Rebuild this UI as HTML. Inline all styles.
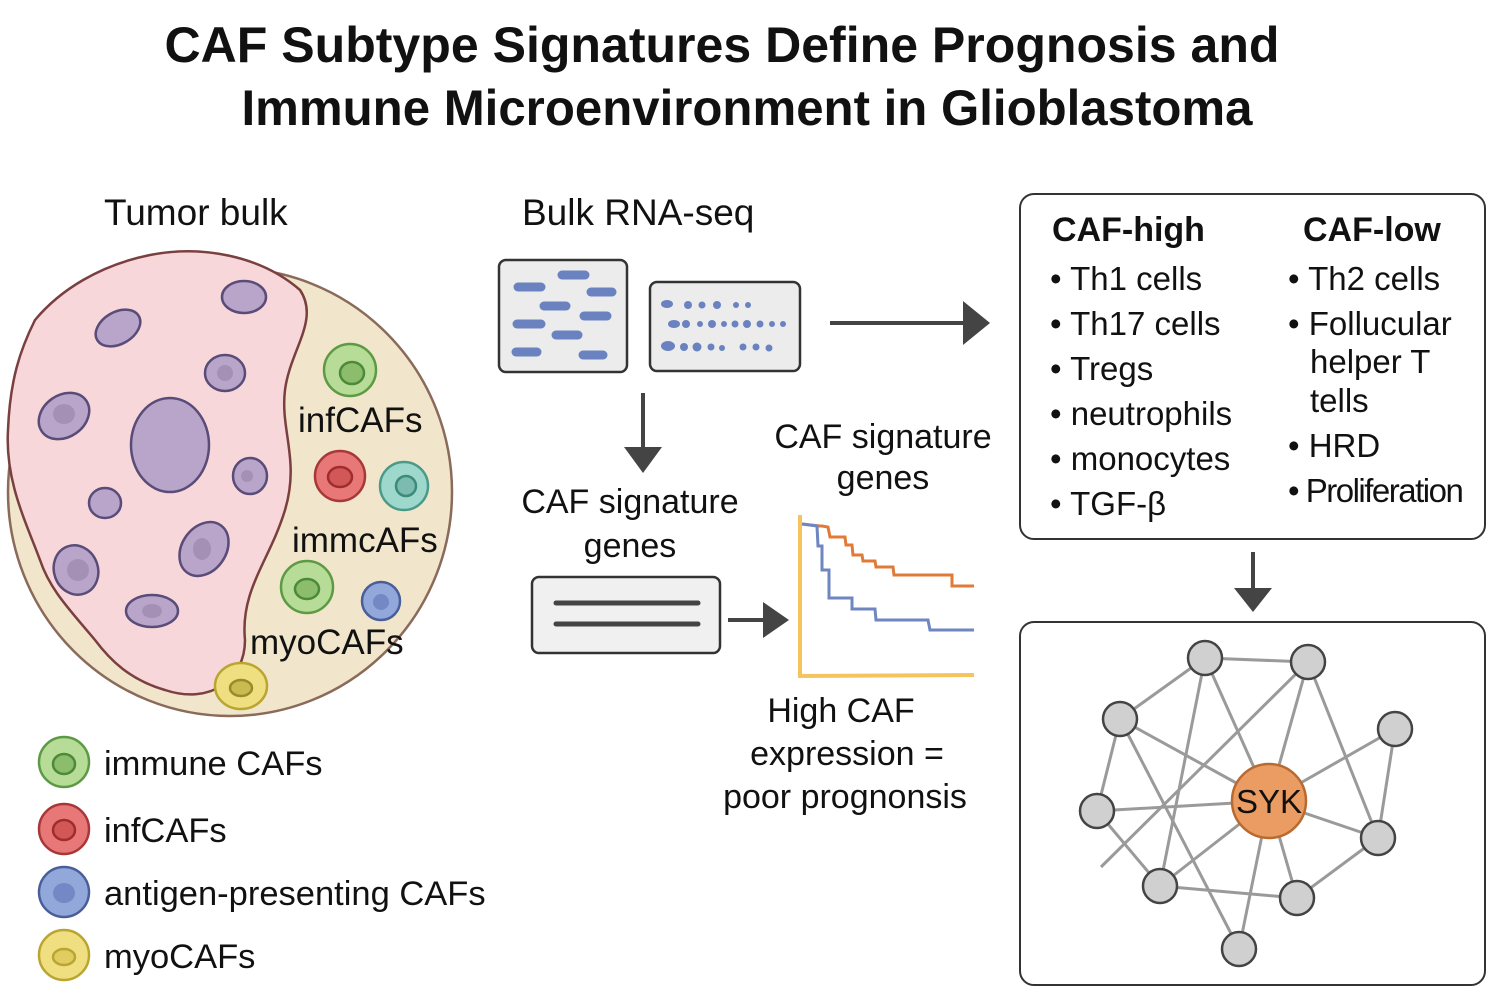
<!DOCTYPE html>
<html><head><meta charset="utf-8"><style>
html,body{margin:0;padding:0;background:#fff;width:1502px;height:998px;overflow:hidden}
svg{display:block}
text{font-family:"Liberation Sans",sans-serif;fill:#111}
</style></head><body>
<svg width="1502" height="998" viewBox="0 0 1502 998" xmlns="http://www.w3.org/2000/svg">
<!-- Title -->
<text x="722" y="62" font-size="50" font-weight="bold" text-anchor="middle" textLength="1115" lengthAdjust="spacingAndGlyphs">CAF Subtype Signatures Define Prognosis and</text>
<text x="747" y="125" font-size="50" font-weight="bold" text-anchor="middle" textLength="1011" lengthAdjust="spacingAndGlyphs">Immune Microenvironment in Glioblastoma</text>

<text x="104" y="225" font-size="37">Tumor bulk</text>
<text x="522" y="225" font-size="37">Bulk RNA-seq</text>

<!-- Tumor -->
<ellipse cx="230" cy="492" rx="222" ry="224" fill="#f1e6cb" stroke="#8a6a5a" stroke-width="2.5"/>
<path d="M150,255 C200,245 260,255 300,290 C320,320 290,350 285,390 C280,430 300,460 285,510 C270,560 240,590 245,640 C245,680 210,705 165,690 C130,680 110,660 95,640 C70,610 50,590 40,560 C25,520 5,480 8,430 C10,380 20,350 35,320 C60,290 100,265 150,255 Z" fill="#f7d7da" stroke="#7a3f3f" stroke-width="2.5"/>
<g fill="#b9a5c9" stroke="#5a4c78" stroke-width="2.5">
<ellipse cx="244" cy="297" rx="22" ry="16"/>
<ellipse cx="118" cy="328" rx="24" ry="16" transform="rotate(-30 118 328)"/>
<ellipse cx="225" cy="373" rx="20" ry="18"/>
<ellipse cx="64" cy="416" rx="27" ry="21" transform="rotate(-35 64 416)"/>
<ellipse cx="170" cy="445" rx="39" ry="47"/>
<ellipse cx="250" cy="476" rx="17" ry="18"/>
<ellipse cx="105" cy="503" rx="16" ry="15"/>
<ellipse cx="204" cy="549" rx="22" ry="29" transform="rotate(35 204 549)"/>
<ellipse cx="76" cy="570" rx="22" ry="25" transform="rotate(-20 76 570)"/>
<ellipse cx="152" cy="611" rx="26" ry="16"/>
</g>
<g fill="#a590b5" stroke="none">
<ellipse cx="64" cy="414" rx="11" ry="10"/><ellipse cx="225" cy="373" rx="8" ry="8"/><ellipse cx="202" cy="549" rx="9" ry="11"/><ellipse cx="78" cy="570" rx="11" ry="11"/><ellipse cx="152" cy="611" rx="10" ry="7"/><ellipse cx="247" cy="476" rx="6" ry="6"/>
</g>
<!-- CAF cells -->
<g stroke-width="2.5">
<circle cx="350" cy="370" r="26" fill="#b6dc98" stroke="#5c9a44"/><ellipse cx="352" cy="373" rx="12" ry="11" fill="#8bbd6c" stroke="#4d8a38"/>
<circle cx="340" cy="476" r="25" fill="#e87878" stroke="#a83838"/><ellipse cx="340" cy="477" rx="12" ry="10" fill="#d25858" stroke="#a02c2c"/>
<circle cx="404" cy="486" r="24" fill="#9ed8cc" stroke="#4a9a8a"/><ellipse cx="406" cy="486" rx="10" ry="10" fill="#7cbcb0" stroke="#3e8a7a"/>
<circle cx="307" cy="587" r="26" fill="#b6dc98" stroke="#5c9a44"/><ellipse cx="307" cy="589" rx="12" ry="10" fill="#8bbd6c" stroke="#4d8a38"/>
<circle cx="381" cy="601" r="19" fill="#93a8da" stroke="#4a5f9a"/><circle cx="381" cy="602" r="8" fill="#7388c4"/>
<ellipse cx="241" cy="686" rx="26" ry="23" fill="#f0df80" stroke="#b9a530"/><ellipse cx="241" cy="688" rx="11" ry="8" fill="#c9bb50" stroke="#9a8a28"/>
</g>
<text x="298" y="432" font-size="35">infCAFs</text>
<text x="292" y="552" font-size="35">immcAFs</text>
<text x="250" y="654" font-size="35">myoCAFs</text>

<!-- Legend -->
<g stroke-width="2.5">
<circle cx="64" cy="762" r="25" fill="#b6dc98" stroke="#5c9a44"/><ellipse cx="64" cy="764" rx="11" ry="10" fill="#8bbd6c" stroke="#4d8a38"/>
<circle cx="64" cy="829" r="25" fill="#e87878" stroke="#a83838"/><ellipse cx="64" cy="830" rx="11" ry="10" fill="#d25858" stroke="#a02c2c"/>
<circle cx="64" cy="892" r="25" fill="#93a8da" stroke="#4a5f9a"/><ellipse cx="64" cy="893" rx="11" ry="10" fill="#7388c4"/>
<circle cx="64" cy="955" r="25" fill="#f0df80" stroke="#b9a530"/><ellipse cx="64" cy="957" rx="11" ry="8" fill="#e0cc60" stroke="#b9a530"/>
</g>
<text x="104" y="775" font-size="34.5">immune CAFs</text>
<text x="104" y="842" font-size="34.5">infCAFs</text>
<text x="104" y="905" font-size="34.5">antigen-presenting CAFs</text>
<text x="104" y="968" font-size="34.5">myoCAFs</text>

<!-- Bulk RNA boxes -->
<rect x="499" y="260" width="128" height="112" rx="7" fill="#ececec" stroke="#333" stroke-width="2.5"/>
<g stroke="#6a82c0" stroke-width="9" stroke-linecap="round">
<line x1="562" y1="275" x2="585" y2="275"/><line x1="518" y1="287" x2="541" y2="287"/><line x1="591" y1="292" x2="612" y2="292"/>
<line x1="544" y1="306" x2="566" y2="306"/><line x1="584" y1="316" x2="607" y2="316"/><line x1="517" y1="324" x2="541" y2="324"/>
<line x1="556" y1="335" x2="578" y2="335"/><line x1="516" y1="352" x2="537" y2="352"/><line x1="583" y1="355" x2="603" y2="355"/>
</g>
<rect x="650" y="282" width="150" height="89" rx="7" fill="#ececec" stroke="#333" stroke-width="2.5"/>
<g fill="#6a82c0">
<ellipse cx="667" cy="304" rx="6" ry="4"/><circle cx="688" cy="305" r="4"/><circle cx="702" cy="305" r="3.5"/><circle cx="717" cy="305" r="4"/><circle cx="736" cy="305" r="3"/><circle cx="748" cy="305" r="3"/>
<ellipse cx="674" cy="324" rx="6" ry="4"/><circle cx="686" cy="324" r="4"/><circle cx="700" cy="324" r="3"/><circle cx="712" cy="324" r="4"/><circle cx="724" cy="324" r="3"/><circle cx="735" cy="324" r="3.5"/><circle cx="747" cy="324" r="4"/><circle cx="760" cy="324" r="3.5"/><circle cx="772" cy="324" r="3"/><circle cx="783" cy="324" r="3"/>
<ellipse cx="668" cy="346" rx="7" ry="5"/><circle cx="684" cy="347" r="4"/><circle cx="697" cy="347" r="4.5"/><circle cx="711" cy="347" r="3.5"/><circle cx="722" cy="348" r="3"/><circle cx="743" cy="347" r="3.5"/><circle cx="756" cy="347" r="3.5"/><circle cx="769" cy="348" r="3.5"/>
</g>

<!-- arrows -->
<g fill="#444" stroke="#444">
<line x1="830" y1="323" x2="966" y2="323" stroke-width="4"/><polygon points="963,301 990,323 963,345" stroke="none"/>
<line x1="643" y1="393" x2="643" y2="450" stroke-width="4"/><polygon points="624,447 662,447 643,473" stroke="none"/>
<line x1="728" y1="620" x2="765" y2="620" stroke-width="4"/><polygon points="763,602 789,620 763,638" stroke="none"/>
<line x1="1253" y1="552" x2="1253" y2="590" stroke-width="4"/><polygon points="1234,588 1272,588 1253,612" stroke="none"/>
</g>

<text x="630" y="513" font-size="34" text-anchor="middle">CAF signature</text>
<text x="630" y="557" font-size="34" text-anchor="middle">genes</text>
<rect x="532" y="577" width="188" height="76" rx="7" fill="#f0f0f0" stroke="#333" stroke-width="2.5"/>
<line x1="556" y1="603" x2="698" y2="603" stroke="#444" stroke-width="5" stroke-linecap="round"/>
<line x1="556" y1="624" x2="698" y2="624" stroke="#444" stroke-width="5" stroke-linecap="round"/>

<text x="883" y="448" font-size="34" text-anchor="middle">CAF signature</text>
<text x="883" y="489" font-size="34" text-anchor="middle">genes</text>
<!-- KM -->
<polyline points="800,515 800,676 974,675" fill="none" stroke="#f5c45e" stroke-width="4"/>
<polyline points="802,524 820,526 822,526 828,527 830,537 845,537 846,545 852,545 853,555 862,555 863,561 875,561 876,567 893,567 894,575 952,575 952,586 974,586" fill="none" stroke="#e07a36" stroke-width="3"/>
<polyline points="802,524 817,526 818,546 822,546 822,570 829,570 829,598 852,598 852,609 875,609 876,620 928,620 930,630 974,630" fill="none" stroke="#6f86c0" stroke-width="3"/>
<text x="841" y="722" font-size="34" text-anchor="middle">High CAF</text>
<text x="847" y="765" font-size="34" text-anchor="middle">expression =</text>
<text x="845" y="808" font-size="34" text-anchor="middle">poor prognonsis</text>

<!-- Box 1 -->
<rect x="1020" y="194" width="465" height="345" rx="14" fill="#fff" stroke="#333" stroke-width="2"/>
<text x="1052" y="241" font-size="34" font-weight="bold">CAF-high</text>
<text x="1303" y="241" font-size="34" font-weight="bold">CAF-low</text>
<g font-size="33">
<text x="1050" y="290">• Th1 cells</text>
<text x="1050" y="335">• Th17 cells</text>
<text x="1050" y="380">• Tregs</text>
<text x="1050" y="425">• neutrophils</text>
<text x="1050" y="470">• monocytes</text>
<text x="1050" y="515">• TGF-β</text>
<text x="1288" y="290">• Th2 cells</text>
<text x="1288" y="335">• Follucular</text>
<text x="1310" y="373">helper T</text>
<text x="1310" y="412">tells</text>
<text x="1288" y="457">• HRD</text>
<text x="1288" y="502" letter-spacing="-1.5">• Proliferation</text>
</g>

<!-- Box 2 network -->
<rect x="1020" y="622" width="465" height="363" rx="14" fill="#fff" stroke="#333" stroke-width="2"/>
<g stroke="#9a9a9a" stroke-width="3">
<line x1="1205" y1="658" x2="1308" y2="662"/>
<line x1="1205" y1="658" x2="1120" y2="719"/>
<line x1="1205" y1="658" x2="1160" y2="886"/>
<line x1="1205" y1="658" x2="1269" y2="801"/>
<line x1="1308" y1="662" x2="1269" y2="801"/>
<line x1="1308" y1="662" x2="1378" y2="838"/>
<line x1="1308" y1="662" x2="1101" y2="867"/>
<line x1="1120" y1="719" x2="1097" y2="811"/>
<line x1="1120" y1="719" x2="1269" y2="801"/>
<line x1="1120" y1="719" x2="1239" y2="949"/>
<line x1="1097" y1="811" x2="1269" y2="801"/>
<line x1="1097" y1="811" x2="1160" y2="886"/>
<line x1="1160" y1="886" x2="1269" y2="801"/>
<line x1="1160" y1="886" x2="1297" y2="898"/>
<line x1="1269" y1="801" x2="1395" y2="729"/>
<line x1="1395" y1="729" x2="1378" y2="838"/>
<line x1="1269" y1="801" x2="1378" y2="838"/>
<line x1="1269" y1="801" x2="1297" y2="898"/>
<line x1="1269" y1="801" x2="1239" y2="949"/>
<line x1="1378" y1="838" x2="1297" y2="898"/>
</g>
<g fill="#d0d0d0" stroke="#444" stroke-width="2.5">
<circle cx="1205" cy="658" r="17"/><circle cx="1308" cy="662" r="17"/><circle cx="1120" cy="719" r="17"/><circle cx="1395" cy="729" r="17"/>
<circle cx="1097" cy="811" r="17"/><circle cx="1378" cy="838" r="17"/><circle cx="1160" cy="886" r="17"/><circle cx="1297" cy="898" r="17"/><circle cx="1239" cy="949" r="17"/>
</g>
<circle cx="1269" cy="801" r="37" fill="#eb9c62" stroke="#b86a30" stroke-width="2.5"/>
<text x="1269" y="813" font-size="33" text-anchor="middle">SYK</text>
</svg>
</body></html>
